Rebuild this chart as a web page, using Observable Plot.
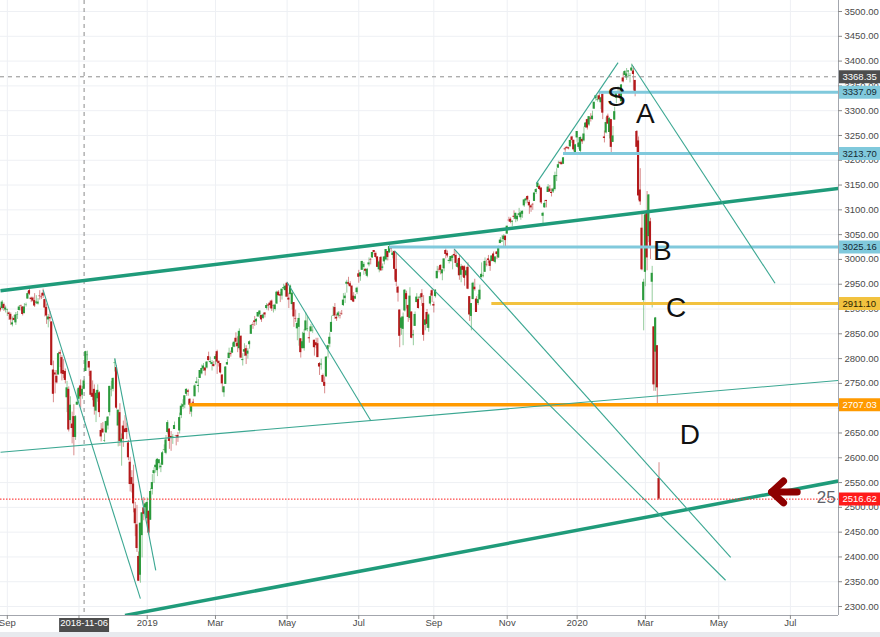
<!DOCTYPE html>
<html><head><meta charset="utf-8">
<script src="https://cdn.jsdelivr.net/npm/d3@7"></script>
<script src="https://cdn.jsdelivr.net/npm/@observablehq/plot@0.6"></script>
<style>
html,body{margin:0;padding:0;background:#fff;}
#chart svg{display:block}
#strip{height:5px;background:#e8eaee;width:880px}
</style></head><body>
<div id="chart"></div><div id="strip"></div>
<script>
// ---------- DATA ----------
const firstDay = "2018-08-28";
const lastCalendarDay = "2020-08-31";
const viewEnd = "2020-08-11";
const holidays = ["2018-09-03","2018-11-22","2018-12-05","2018-12-25","2019-01-01","2019-01-21","2019-02-18","2019-04-19","2019-05-27","2019-07-04","2019-09-02","2019-11-28","2019-12-25","2020-01-01","2020-01-20","2020-02-17","2020-04-10","2020-05-25","2020-07-03"];

// daily [open, high, low, close]
const ohlc = [
// Aug 2018
[2901,2904,2894,2898],[2901,2917,2898,2914],[2909,2912,2895,2901],[2898,2906,2892,2902],
// Sep 2018
[2897,2900,2885,2897],[2892,2894,2877,2889],[2889,2892,2867,2878],[2868,2884,2864,2872],[2881,2887,2876,2877],[2872,2893,2867,2888],[2888,2895,2879,2889],[2897,2907,2896,2904],[2906,2908,2896,2905],[2904,2905,2886,2889],[2891,2911,2890,2904],[2907,2912,2904,2908],[2920,2935,2920,2931],[2937,2941,2927,2930],[2922,2924,2913,2919],[2922,2924,2914,2916],[2917,2931,2903,2906],[2912,2927,2909,2914],[2910,2921,2908,2914],
// Oct 2018
[2926,2937,2918,2925],[2924,2931,2919,2923],[2932,2940,2921,2926],[2919,2920,2884,2902],[2903,2910,2869,2886],[2878,2889,2862,2884],[2883,2895,2874,2880],[2874,2874,2785,2786],[2777,2795,2711,2728],[2771,2776,2729,2767],[2764,2776,2749,2751],[2767,2813,2767,2810],[2812,2817,2782,2809],[2802,2806,2755,2769],[2776,2798,2760,2768],[2774,2779,2749,2756],[2721,2754,2691,2741],[2738,2743,2652,2656],[2675,2723,2668,2706],[2668,2692,2628,2659],[2683,2707,2604,2641],[2641,2685,2635,2683],[2706,2737,2706,2712],
// Nov 2018
[2718,2742,2709,2740],[2745,2757,2700,2723],[2726,2744,2718,2738],[2738,2757,2737,2755],[2774,2815,2774,2814],[2806,2815,2795,2807],[2794,2794,2764,2781],[2774,2776,2722,2726],[2730,2755,2715,2722],[2738,2747,2686,2702],[2694,2735,2671,2730],[2719,2747,2712,2736],[2731,2733,2681,2691],[2655,2669,2632,2642],[2658,2671,2650,2650],[2633,2648,2631,2633],[2650,2674,2650,2673],[2664,2683,2656,2682],[2691,2744,2684,2744],[2737,2754,2723,2738],[2738,2761,2733,2760],
// Dec 2018
[2790,2800,2773,2791],[2782,2786,2697,2700],[2664,2696,2622,2696],[2691,2709,2623,2633],[2631,2648,2583,2638],[2664,2674,2621,2637],[2658,2685,2650,2651],[2659,2670,2637,2651],[2630,2635,2594,2600],[2591,2601,2531,2546],[2560,2574,2529,2546],[2547,2585,2489,2507],[2497,2510,2441,2467],[2465,2504,2409,2417],[2401,2410,2351,2351],[2363,2468,2347,2468],[2443,2489,2398,2489],[2499,2520,2473,2486],[2499,2509,2483,2507],
// Jan 2019
[2477,2519,2467,2510],[2492,2493,2444,2448],[2474,2538,2474,2532],[2536,2566,2525,2550],[2568,2580,2548,2574],[2580,2595,2569,2585],[2574,2598,2562,2597],[2588,2596,2577,2596],[2580,2589,2570,2583],[2585,2613,2585,2610],[2615,2626,2613,2616],[2609,2645,2606,2636],[2651,2675,2648,2671],[2658,2658,2617,2633],[2643,2653,2613,2639],[2639,2647,2627,2642],[2657,2672,2657,2665],[2645,2645,2624,2644],[2645,2651,2631,2640],[2654,2690,2648,2681],[2685,2709,2679,2704],
// Feb 2019
[2702,2717,2697,2707],[2706,2725,2699,2725],[2728,2739,2724,2738],[2735,2738,2724,2732],[2718,2719,2687,2706],[2692,2708,2682,2708],[2712,2718,2704,2710],[2723,2748,2723,2745],[2750,2762,2749,2753],[2744,2758,2731,2746],[2760,2776,2760,2776],[2769,2787,2767,2780],[2779,2790,2774,2785],[2781,2782,2765,2775],[2781,2794,2779,2793],[2804,2813,2795,2796],[2792,2803,2789,2794],[2788,2796,2775,2792],[2788,2794,2783,2784],
// Mar 2019
[2798,2808,2787,2804],[2814,2817,2768,2793],[2794,2796,2783,2790],[2790,2790,2769,2771],[2767,2767,2732,2749],[2731,2744,2722,2743],[2748,2784,2748,2783],[2787,2798,2787,2792],[2800,2821,2800,2811],[2810,2815,2803,2808],[2811,2831,2811,2822],[2823,2835,2822,2833],[2841,2852,2823,2833],[2831,2844,2812,2824],[2820,2860,2817,2855],[2845,2846,2800,2801],[2796,2810,2785,2798],[2813,2830,2804,2818],[2820,2826,2788,2805],[2809,2820,2799,2815],[2828,2836,2819,2834],
// Apr 2019
[2849,2869,2849,2867],[2868,2873,2859,2867],[2876,2885,2865,2873],[2874,2881,2867,2879],[2884,2893,2883,2893],[2888,2896,2881,2896],[2887,2887,2873,2878],[2881,2890,2879,2888],[2892,2893,2882,2888],[2901,2911,2898,2907],[2908,2910,2896,2906],[2912,2916,2901,2907],[2916,2918,2895,2900],[2905,2908,2892,2905],[2899,2910,2896,2908],[2910,2936,2909,2934],[2934,2937,2926,2927],[2929,2933,2913,2926],[2926,2940,2918,2940],[2941,2950,2939,2943],[2937,2948,2924,2946],
// May 2019
[2952,2954,2923,2924],[2922,2932,2901,2918],[2929,2948,2929,2946],[2909,2937,2898,2932],[2913,2913,2863,2884],[2880,2898,2873,2879],[2860,2876,2836,2871],[2863,2891,2825,2881],[2840,2840,2801,2812],[2820,2853,2820,2834],[2820,2859,2815,2851],[2856,2892,2856,2876],[2859,2885,2854,2860],[2842,2854,2831,2840],[2854,2869,2854,2864],[2856,2865,2851,2857],[2837,2837,2805,2822],[2832,2841,2820,2826],[2830,2841,2802,2802],[2790,2792,2766,2783],[2787,2799,2777,2789],[2766,2769,2751,2752],
// Jun 2019
[2752,2763,2729,2744],[2763,2804,2763,2803],[2818,2827,2801,2826],[2829,2852,2822,2843],[2853,2885,2853,2873],[2886,2905,2886,2887],[2903,2911,2879,2886],[2883,2889,2875,2880],[2886,2895,2882,2892],[2887,2894,2880,2886],[2890,2897,2887,2889],[2907,2931,2905,2918],[2921,2932,2911,2926],[2950,2958,2932,2954],[2953,2964,2947,2950],[2951,2955,2944,2945],[2946,2947,2916,2917],[2926,2933,2913,2914],[2920,2929,2919,2925],[2933,2944,2929,2942],
// Jul 2019
[2971,2978,2952,2964],[2965,2973,2956,2973],[2978,2996,2978,2996],[2984,2994,2968,2990],[2980,2981,2970,2976],[2966,2982,2963,2980],[2989,3003,2985,2993],[3000,3002,2989,2999],[3003,3014,3002,3014],[3018,3018,3009,3014],[3012,3015,3001,3004],[3005,3005,2984,2984],[2979,2998,2973,2995],[3004,3006,2976,2977],[2982,2991,2977,2985],[2995,3006,2989,3005],[2999,3020,2997,3020],[3016,3016,2997,3004],[3013,3028,3013,3026],[3024,3026,3014,3021],[3008,3017,3001,3013],[3016,3017,2958,2980],
// Aug 2019
[2980,3014,2945,2954],[2944,2946,2914,2932],[2898,2898,2822,2845],[2861,2884,2847,2882],[2859,2892,2826,2884],[2896,2939,2894,2938],[2931,2936,2900,2919],[2907,2908,2873,2883],[2881,2943,2877,2926],[2894,2894,2840,2841],[2846,2857,2826,2848],[2865,2894,2865,2889],[2913,2931,2913,2924],[2919,2924,2900,2901],[2922,2929,2918,2924],[2931,2939,2905,2923],[2911,2927,2835,2847],[2867,2879,2856,2878],[2893,2899,2861,2869],[2861,2890,2853,2888],[2910,2931,2906,2925],[2937,2940,2913,2926],
// Sep 2019
[2909,2914,2892,2906],[2925,2939,2922,2938],[2961,2986,2961,2976],[2980,2985,2973,2979],[2988,2989,2969,2978],[2971,2979,2957,2979],[2981,3001,2975,3001],[3018,3021,3001,3010],[3012,3017,3003,3007],[2996,3002,2991,2998],[2996,3006,2994,3006],[3002,3008,2979,3007],[3010,3021,3003,3007],[3008,3016,2985,2992],[2984,2999,2982,2992],[3002,3008,2958,2967],[2968,2990,2953,2985],[2986,2987,2964,2978],[2985,2987,2946,2962],[2967,2984,2967,2977],
// Oct 2019
[2984,2993,2939,2940],[2925,2925,2875,2888],[2885,2911,2856,2911],[2919,2954,2919,2952],[2944,2960,2936,2939],[2920,2925,2893,2893],[2911,2929,2907,2919],[2919,2948,2917,2938],[2963,2993,2963,2970],[2966,2973,2963,2966],[2974,3003,2974,2996],[2990,2998,2985,2989],[3001,3008,2992,2998],[2997,3000,2976,2986],[2996,3007,2995,3007],[3011,3015,2995,2996],[2994,3005,2991,3005],[3015,3016,3000,3010],[3003,3027,3002,3023],[3032,3044,3032,3039],[3035,3048,3035,3037],[3040,3050,3026,3047],[3047,3047,3023,3038],
// Nov 2019
[3051,3067,3051,3067],[3079,3085,3075,3078],[3081,3084,3072,3075],[3075,3078,3066,3077],[3087,3098,3080,3085],[3081,3093,3074,3093],[3080,3088,3076,3087],[3089,3103,3085,3092],[3084,3098,3079,3094],[3091,3098,3083,3097],[3108,3120,3105,3120],[3118,3124,3112,3122],[3127,3128,3113,3120],[3115,3119,3091,3108],[3108,3110,3095,3104],[3111,3113,3099,3110],[3117,3134,3117,3134],[3135,3143,3131,3141],[3145,3154,3143,3154],[3147,3150,3139,3141],
// Dec 2019
[3144,3144,3111,3114],[3087,3095,3070,3093],[3104,3119,3103,3113],[3119,3119,3104,3117],[3135,3151,3135,3146],[3142,3149,3135,3136],[3135,3142,3126,3133],[3136,3144,3133,3142],[3141,3176,3138,3169],[3167,3183,3157,3169],[3184,3198,3184,3191],[3195,3198,3191,3193],[3195,3198,3191,3191],[3192,3205,3192,3205],[3223,3226,3216,3221],[3226,3228,3222,3224],[3225,3226,3221,3223],[3227,3240,3227,3240],[3247,3248,3234,3240],[3240,3241,3217,3221],[3215,3232,3212,3231],
// Jan 2020
[3245,3258,3236,3258],[3226,3246,3222,3235],[3218,3247,3215,3246],[3242,3245,3232,3237],[3239,3267,3237,3253],[3266,3276,3264,3275],[3282,3283,3261,3265],[3271,3288,3268,3288],[3285,3294,3277,3283],[3282,3299,3281,3289],[3303,3317,3303,3317],[3324,3330,3319,3330],[3321,3330,3317,3321],[3330,3338,3320,3322],[3316,3327,3302,3326],[3333,3333,3282,3295],[3247,3259,3235,3244],[3255,3286,3253,3276],[3289,3293,3272,3273],[3256,3286,3243,3284],[3282,3282,3215,3226],
// Feb 2020
[3236,3268,3236,3249],[3281,3307,3281,3298],[3325,3338,3314,3335],[3345,3348,3334,3346],[3336,3341,3322,3328],[3318,3352,3318,3352],[3366,3376,3356,3358],[3371,3381,3370,3379],[3366,3385,3361,3374],[3378,3381,3366,3380],[3369,3375,3356,3370],[3380,3394,3379,3386],[3380,3389,3341,3373],[3361,3361,3328,3338],[3258,3260,3215,3226],[3239,3247,3119,3128],[3140,3183,3109,3116],[3063,3097,2977,2979],[2917,2960,2856,2954],
// Mar 2020
[2974,3091,2945,3090],[3096,3137,2977,3003],[3046,3131,3034,3130],[3076,3083,3000,3024],[2954,2986,2902,2972],[2864,2864,2734,2747],[2813,2883,2734,2882],[2826,2826,2707,2741],[2558,2590,2514,2516.62]
];

const yTickValues = d3.range(2300, 3501, 50);
const xTickMonths = ["2018-09","2018-11","2019-01","2019-03","2019-05","2019-07","2019-09","2019-11","2020-01","2020-03","2020-05","2020-07"];
const xTickLabels = ["Sep","Nov","2019","Mar","May","Jul","Sep","Nov","2020","Mar","May","Jul"];

// drawn trend lines: [date, price] → [date, price]
const trendLines = [
  {kind:"thick", from:["2018-08-28",2937], to:["2020-08-11",3143]},
  {kind:"thick", from:["2018-12-12",2282], to:["2020-08-11",2553]},
  {kind:"thin",  from:["2018-08-28",2611], to:["2020-08-11",2756]},
  {kind:"thin",  from:["2018-10-03",2938], to:["2018-12-26",2316]},
  {kind:"thin",  from:["2018-12-03",2800], to:["2019-01-09",2373]},
  {kind:"thin",  from:["2019-05-01",2954], to:["2019-07-11",2675]},
  {kind:"thin",  from:["2019-07-31",3017], to:["2020-05-07",2353]},
  {kind:"thin",  from:["2019-09-19",3021], to:["2020-05-12",2399]},
  {kind:"thin",  from:["2019-11-26",3153], to:["2020-02-06",3397]},
  {kind:"thin",  from:["2020-02-19",3393], to:["2020-06-18",2952]}
];

// horizontal levels
const levelPrices = [3337.09, 3213.70, 3025.16, 2911.10, 2707.03];
const levelStarts = ["2020-01-22","2019-12-19","2019-07-26","2019-10-21","2019-02-07"];
const levelKinds  = ["blue","blue","blue","yellow","orange"];

const crossDate = "2018-11-06";
const crossPrice = 3368.35;
const lastPrice = 2516.62;

// price tags on the right scale
const tagPrices = [3368.35, 3337.09, 3213.70, 3025.16, 2911.10, 2707.03, 2516.62];
const tagKinds  = ["cross","blue","blue","blue","yellow","orange","last"];

// letters written on the chart
const noteLabels = ["S","A","B","C","D"];
const noteDates  = ["2020-02-05","2020-03-02","2020-03-16","2020-03-26","2020-04-07"];
const notePrices = [3327, 3294, 3016, 2901, 2645];
const sideNote = {label:"25", date:"2020-07-31", price:2520};
// hand-drawn arrow: head (wing, tip, wing) and shaft, as [date, price, part]
const arrowPoints = [
  ["2020-06-25",2553,"head"],["2020-06-16",2531,"head"],["2020-06-25",2509,"head"],
  ["2020-06-16",2531,"shaft"],["2020-07-08",2531,"shaft"]
];

// ---------- STYLES ----------
const C = {
  up:"#2b9a3c", down:"#b3191b", grid:"#eef0f4", axis:"#a3a6ad", text:"#4a4a4a",
  thick:"#1f9b7a", thin:"#3ba792",
  blue:"#80c9dc", yellow:"#f2c23f", orange:"#ff9a00",
  cross:"#4d4d4d", last:"#ff1a1a", arrow:"#8e0000"
};
const tagText = {cross:"#fff", blue:"#152a33", yellow:"#2a2200", orange:"#fff", last:"#fff"};

// ---------- BUILD ----------
const parse = d3.utcParse("%Y-%m-%d");
const fmt = d3.utcFormat("%Y-%m-%d");
const tradingDays = d3.utcDays(parse(firstDay), d3.utcDay.offset(parse(lastCalendarDay), 1))
  .filter(d => d.getUTCDay() !== 0 && d.getUTCDay() !== 6 && !holidays.includes(fmt(d)))
  .map(fmt);
const idx = new Map(tradingDays.map((d, i) => [d, i]));
const bars = ohlc.map(([o, h, l, c], i) => ({i, date: tradingDays[i], o, h, l, c, up: c >= o}));
const xTicks = xTickMonths.map((m, k) => ({i: tradingDays.findIndex(d => d.startsWith(m)), label: xTickLabels[k]}));
const levels = levelPrices.map((v, k) => ({v, start: levelStarts[k], kind: levelKinds[k]}));
const tags = tagPrices.map((v, k) => ({v, kind: tagKinds[k]}));
const notes = noteLabels.map((label, k) => ({label, date: noteDates[k], price: notePrices[k]}));
const arrowPts = arrowPoints.map(([date, price, part]) => ({x: idx.get(date), price, part}));

const W = 880, H = 632, mR = 42, mB = 17;
const plotW = W - mR, plotH = H - mB;
const xMax = idx.get(viewEnd) + 0.2;
const yDomain = [2281.9, 3522.2];
const font = "'Liberation Sans', Arial, sans-serif";

const chart = Plot.plot({
  width: W, height: H,
  marginLeft: 0, marginRight: mR, marginTop: 0, marginBottom: mB,
  x: {domain: [0, xMax], axis: null},
  y: {domain: yDomain, axis: null},
  color: {type: "identity"},
  style: {fontFamily: font, background: "#fff", overflow: "visible"},
  marks: [
    // grid
    Plot.ruleY(yTickValues, {y: d => d, stroke: C.grid}),
    Plot.ruleX(xTicks, {x: "i", stroke: C.grid}),
    // crosshair vertical
    Plot.ruleX([crossDate], {x: d => idx.get(d), stroke: "#8a8a8a", strokeDasharray: "4,4"}),
    // candles
    Plot.ruleX(bars, {x: "i", y1: "l", y2: "h", stroke: d => d.up ? C.up : C.down, strokeOpacity: 0.5, strokeWidth: 1, clip: true}),
    Plot.rect(bars, {x1: d => d.i - 0.62, x2: d => d.i + 0.62, y1: "o", y2: d => d.c === d.o ? d.o + 1 : d.c, fill: d => d.up ? C.up : C.down, clip: true}),
    // level lines
    Plot.ruleY(levels, {y: "v", x1: d => idx.get(d.start), x2: xMax, stroke: d => C[d.kind], strokeWidth: d => d.kind === "orange" ? 3.5 : 3}),
    // trend lines
    Plot.link(trendLines, {
      x1: d => idx.get(d.from[0]), y1: d => d.from[1], x2: d => idx.get(d.to[0]), y2: d => d.to[1],
      stroke: d => C[d.kind], strokeWidth: d => d.kind === "thick" ? 3.5 : 1.1, clip: true
    }),
    // last price dotted, crosshair horizontal
    Plot.ruleY([lastPrice], {stroke: C.last, strokeWidth: 1, strokeDasharray: "1.5,1.5"}),
    Plot.ruleY([crossPrice], {stroke: "#8f8f8f", strokeDasharray: "4,4"}),
    // letters
    Plot.text(notes, {x: d => idx.get(d.date), y: "price", text: "label", fontSize: 28, fill: "#111"}),
    Plot.text([sideNote], {x: d => idx.get(d.date), y: "price", text: "label", fontSize: 17, fill: "#5f626b"}),
    // arrow
    Plot.line(arrowPts, {x: "x", y: "price", z: "part", stroke: C.arrow, strokeWidth: 7, strokeLinecap: "round", strokeLinejoin: "round"}),
    // frame lines (right and bottom)
    Plot.ruleX([xMax], {stroke: C.axis}),
    Plot.ruleY([yDomain[0]], {stroke: C.axis}),
    // right axis ticks + labels
    Plot.ruleY(yTickValues, {y: d => d, insetLeft: plotW, insetRight: -4, stroke: "#8a8a8a"}),
    Plot.text(yTickValues, {y: d => d, text: d => d.toFixed(2), frameAnchor: "right", dx: 6, textAnchor: "start", fontSize: 9.5, fill: C.text}),
    // price tags
    Plot.ruleY(tags, {y: "v", stroke: d => C[d.kind], strokeWidth: 13, insetLeft: plotW + 1, insetRight: -mR}),
    Plot.text(tags, {y: "v", text: d => d.v.toFixed(2), frameAnchor: "right", dx: 4, textAnchor: "start", fontSize: 9.5, fill: d => tagText[d.kind]}),
    // bottom axis ticks + labels
    Plot.ruleX(xTicks, {x: "i", insetTop: plotH, insetBottom: -4, stroke: "#8a8a8a"}),
    Plot.text(xTicks, {x: "i", text: "label", frameAnchor: "bottom", dy: 10, fontSize: 9.5, fill: C.text}),
    // crosshair date tag
    Plot.ruleX([crossDate], {x: d => idx.get(d), insetTop: plotH + 3, insetBottom: -(H - plotH), stroke: C.cross, strokeWidth: 50}),
    Plot.text([crossDate], {x: d => idx.get(d), text: d => d, frameAnchor: "bottom", dy: 10, fontSize: 9.5, fill: "#fff"})
  ]
});
document.getElementById("chart").append(chart);
</script>
</body></html>
